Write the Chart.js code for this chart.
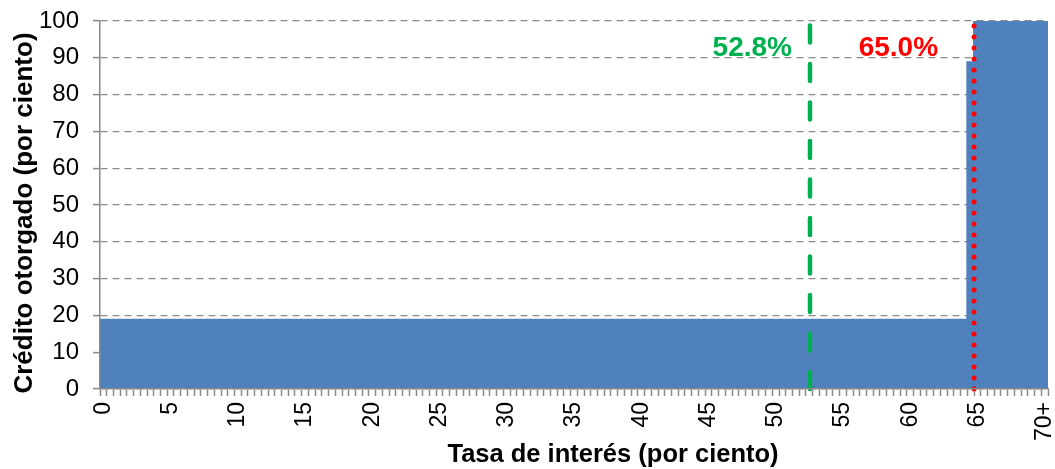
<!DOCTYPE html>
<html>
<head>
<meta charset="utf-8">
<script src="https://cdn.jsdelivr.net/npm/chart.js@4/dist/chart.umd.min.js"></script>
<style>
  html, body { margin: 0; background: #fff; }
</style>
</head>
<body>
<canvas id="chart" width="1055" height="469"></canvas>
<script>
// Tasa de interés: categorías de medio punto, de 0 a 70+
const rateCategories = [];
for (let r = 0; r <= 70; r += 0.5) rateCategories.push(r === 70 ? '70+' : String(r));

// Etiquetas visibles en el eje x
const shownTicks = ['0', '5', '10', '15', '20', '25', '30', '35', '40', '45',
                    '50', '55', '60', '65', '70+'];

// Crédito otorgado (por ciento), una cifra por categoría
const creditGranted = [
  18.8, 18.8, 18.8, 18.8, 18.8, 18.8, 18.8, 18.8, 18.8, 18.8, 18.8, 18.8, 18.8, 18.8, 18.8, 18.8,
  18.8, 18.8, 18.8, 18.8, 18.8, 18.8, 18.8, 18.8, 18.8, 18.8, 18.8, 18.8, 18.8, 18.8, 18.8, 18.8,
  18.8, 18.8, 18.8, 18.8, 18.8, 18.8, 18.8, 18.8, 18.8, 18.8, 18.8, 18.8, 18.8, 18.8, 18.8, 18.8,
  18.8, 18.8, 18.8, 18.8, 18.8, 18.8, 18.8, 18.8, 18.8, 18.8, 18.8, 18.8, 18.8, 18.8, 18.8, 18.8,
  18.8, 18.8, 18.8, 18.8, 18.8, 18.8, 18.8, 18.8, 18.8, 18.8, 18.8, 18.8, 18.8, 18.8, 18.8, 18.8,
  18.8, 18.8, 18.8, 18.8, 18.8, 18.8, 18.8, 18.8, 18.8, 18.8, 18.8, 18.8, 18.8, 18.8, 18.8, 18.8,
  18.8, 18.8, 18.8, 18.8, 18.8, 18.8, 18.8, 18.8, 18.8, 18.8, 18.8, 18.8, 18.8, 18.8, 18.8, 18.8,
  18.8, 18.8, 18.8, 18.8, 18.8, 18.8, 18.8, 18.8, 18.8, 18.8, 18.8, 18.8, 18.8, 18.8, 18.8, 18.8,
  18.8,
  88.8,
  100, 100, 100, 100, 100, 100, 100, 100, 100, 100, 100
];

// Tasas de referencia (líneas verticales) y sus rótulos
const markerRates = [52.8, 65.0];
const markerLabels = ['52.8%', '65.0%'];

const axisTitleX = 'Tasa de interés (por ciento)';
const axisTitleY = 'Crédito otorgado (por ciento)';

const FONT = '"Liberation Sans", Arial, sans-serif';
const AXIS_GRAY = '#898989';

// líneas de referencia + rótulos de color
const refLines = {
  id: 'refLines',
  afterDatasetsDraw(chart) {
    const { ctx, chartArea, scales: { x } } = chart;
    const styles = [
      { color: '#00B050', dash: [17, 21.5], width: 4.5, gap: 18 },
      { color: '#FF0000', dash: [0, 11], width: 5, gap: 36 }
    ];
    markerRates.forEach((rate, i) => {
      const st = styles[i];
      // la tasa cae en el borde izquierdo de su categoría de medio punto
      const px = x.getPixelForValue(rate * 2 - 0.5);
      ctx.save();
      ctx.strokeStyle = st.color;
      ctx.lineWidth = st.width;
      ctx.lineCap = 'round';
      ctx.setLineDash(st.dash);
      ctx.beginPath();
      ctx.moveTo(px, chartArea.bottom);
      ctx.lineTo(px, chartArea.top + 2);
      ctx.stroke();
      ctx.setLineDash([]);
      ctx.fillStyle = st.color;
      ctx.font = 'bold 28px ' + FONT;
      ctx.textAlign = 'right';
      ctx.textBaseline = 'alphabetic';
      ctx.fillText(markerLabels[i], px - st.gap, 56);
      ctx.restore();
    });
  }
};

// títulos de los ejes
const axisTitles = {
  id: 'axisTitles',
  afterDraw(chart) {
    const { ctx } = chart;
    ctx.save();
    ctx.fillStyle = '#000';
    ctx.textAlign = 'center';
    ctx.textBaseline = 'alphabetic';
    ctx.font = 'bold 25.5px ' + FONT;
    ctx.fillText(axisTitleX, 613, 462);
    ctx.font = 'bold 26px ' + FONT;
    ctx.translate(32, 213);
    ctx.rotate(-Math.PI / 2);
    ctx.fillText(axisTitleY, 0, 0);
    ctx.restore();
  }
};

new Chart(document.getElementById('chart'), {
  type: 'bar',
  data: {
    labels: rateCategories,
    datasets: [{
      data: creditGranted,
      backgroundColor: '#4F81BD',
      borderWidth: 0,
      inflateAmount: 1,
      barPercentage: 1,
      categoryPercentage: 1
    }]
  },
  options: {
    responsive: false,
    animation: false,
    layout: { padding: { left: 0, top: 21, right: 7, bottom: 0 } },
    plugins: { legend: { display: false }, tooltip: { enabled: false } },
    scales: {
      x: {
        type: 'category',
        offset: true,
        grid: {
          offset: true,
          drawOnChartArea: false,
          tickLength: 7,
          tickColor: AXIS_GRAY,
          tickWidth: 1.5
        },
        border: { color: AXIS_GRAY, width: 1.5, z: 1 },
        ticks: {
          autoSkip: false,
          minRotation: 90,
          maxRotation: 90,
          padding: 6,
          color: '#000',
          font: { family: FONT, size: 23 },
          callback(value) {
            const lab = this.getLabelForValue(value);
            return shownTicks.includes(lab) ? lab : '';
          }
        },
        afterFit(s) { s.height = 80; s.paddingLeft = 0; s.paddingRight = 0; }
      },
      y: {
        min: 0,
        max: 100,
        grid: {
          color: '#8a8a8a',
          lineWidth: 1.2,
          tickLength: 7,
          tickColor: AXIS_GRAY,
          tickWidth: 1.5,
          tickBorderDash: []
        },
        border: { color: AXIS_GRAY, width: 1.5, dash: [7, 5], z: 1 },
        ticks: {
          stepSize: 10,
          padding: 14,
          color: '#000',
          font: { family: FONT, size: 24 }
        },
        afterFit(s) { s.width = 100; s.paddingTop = 0; s.paddingBottom = 0; }
      }
    }
  },
  plugins: [refLines, axisTitles]
});
</script>
</body>
</html>
